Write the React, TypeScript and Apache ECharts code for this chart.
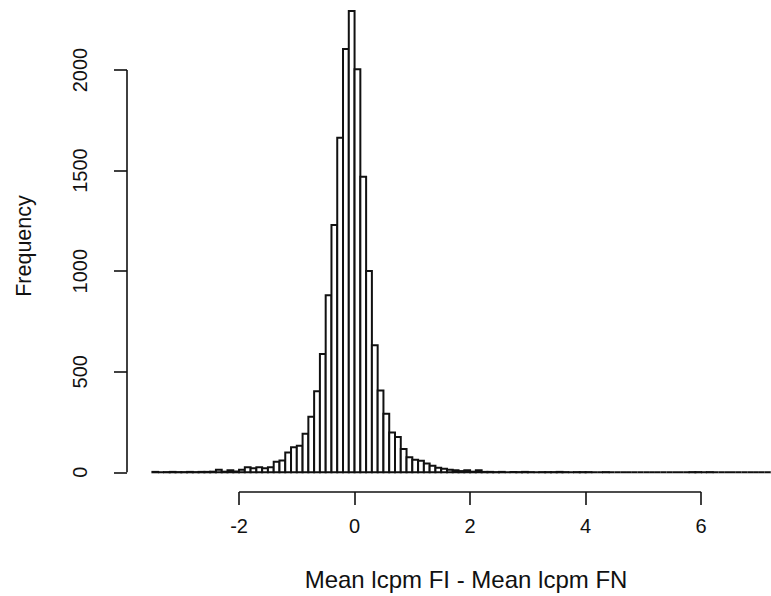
import React, { useEffect, useRef } from "react";
import * as echarts from "echarts";

// Histogram breaks: first break and bin width
const breakStart = -3.5;
const binWidth = 0.1;

// Counts per bin, from -3.5 to 7.5 in steps of 0.1
const counts: number[] = [
  2, 0, 1, 2, 1, 1, 2, 1, 2, 2,
  3, 12, 3, 10, 4, 12, 25, 20, 25, 20,
  25, 53, 58, 98, 124, 132, 191, 276, 403, 588,
  880, 1230, 1663, 2104, 2293, 2004, 1469, 1001, 632, 407,
  291, 198, 176, 116, 75, 62, 57, 44, 33, 22,
  17, 13, 10, 6, 10, 3, 10, 2, 2, 1,
  2, 0, 1, 1, 2, 1, 0, 1, 1, 1,
  2, 1, 0, 1, 1, 1, 0, 0, 1, 0,
  0, 0, 0, 0, 0, 0, 0, 0, 0, 0,
  0, 0, 0, 1, 1, 0, 1, 0, 0, 0,
  0, 0, 0, 0, 0, 0, 0, 0, 0, 0,
];

const xTicks = [-2, 0, 2, 4, 6];
const yTicks = [0, 500, 1000, 1500, 2000];

const xTitle = "Mean lcpm FI - Mean lcpm FN";
const yTitle = "Frequency";

const FONT = "'Liberation Sans', Arial, sans-serif";
const INK = "#111";

export default function App() {
  const ref = useRef<HTMLDivElement>(null);

  useEffect(() => {
    if (!ref.current) return;
    const chart = echarts.init(ref.current, undefined, { renderer: "svg" });

    const data = counts.map((c, i) => {
      const x0 = +(breakStart + i * binWidth).toFixed(2);
      const x1 = +(breakStart + (i + 1) * binWidth).toFixed(2);
      return [x0, x1, c];
    });

    const xMin = -3.94;
    const xMax = 7.21;
    const yMin = -98;
    const yMax = 2348;

    chart.setOption({
      animation: false,
      backgroundColor: "#fff",
      grid: { left: 127, right: 0, top: 0, bottom: 104, containLabel: false },
      graphic: [
        {
          type: "text",
          x: 466,
          y: 579,
          style: {
            text: xTitle,
            fontSize: 24,
            fontFamily: FONT,
            fill: INK,
            textAlign: "center",
            textVerticalAlign: "middle",
          },
        },
      ],
      xAxis: {
        type: "value",
        min: xMin,
        max: xMax,
        splitLine: { show: false },
        axisLine: { show: false, onZero: false },
        axisTick: {
          show: true,
          length: 13,
          customValues: xTicks,
          lineStyle: { color: INK, width: 1.6 },
        },
        axisLabel: {
          show: true,
          customValues: xTicks,
          margin: 24,
          fontSize: 20,
          fontFamily: FONT,
          color: INK,
          formatter: (v: number) => String(v),
        },
      },
      yAxis: {
        type: "value",
        min: yMin,
        max: yMax,
        splitLine: { show: false },
        axisLine: { show: false, onZero: false },
        axisTick: {
          show: true,
          length: 13,
          customValues: yTicks,
          lineStyle: { color: INK, width: 1.6 },
        },
        axisLabel: {
          show: true,
          customValues: yTicks,
          rotate: 90,
          margin: 37,
          fontSize: 20,
          fontFamily: FONT,
          color: INK,
          formatter: (v: number) => String(v),
        },
        name: yTitle,
        nameLocation: "middle",
        nameRotate: 90,
        nameGap: 92,
        nameTextStyle: { fontSize: 21.5, fontFamily: FONT, color: INK },
      },
      series: [
        {
          type: "custom",
          clip: false,
          data,
          renderItem: (params: any, api: any) => {
            const x0 = api.value(0);
            const x1 = api.value(1);
            const c = api.value(2);
            const p0 = api.coord([x0, c]);
            const p1 = api.coord([x1, 0]);
            return {
              type: "rect",
              shape: {
                x: p0[0],
                y: p0[1],
                width: p1[0] - p0[0],
                height: p1[1] - p0[1],
              },
              style: { fill: "#fff", stroke: INK, lineWidth: 2 },
            };
          },
          markLine: {
            silent: true,
            symbol: "none",
            label: { show: false },
            lineStyle: { color: INK, width: 1.6, type: "solid" },
            data: [
              [{ coord: [xTicks[0], yMin] }, { coord: [xTicks[xTicks.length - 1], yMin] }],
              [{ coord: [xMin, yTicks[0]] }, { coord: [xMin, yTicks[yTicks.length - 1]] }],
            ],
          },
        },
      ],
    });

    return () => chart.dispose();
  }, []);

  return (
    <div
      ref={ref}
      style={{ position: "absolute", left: 0, top: 0, width: 771, height: 596 }}
    />
  );
}
